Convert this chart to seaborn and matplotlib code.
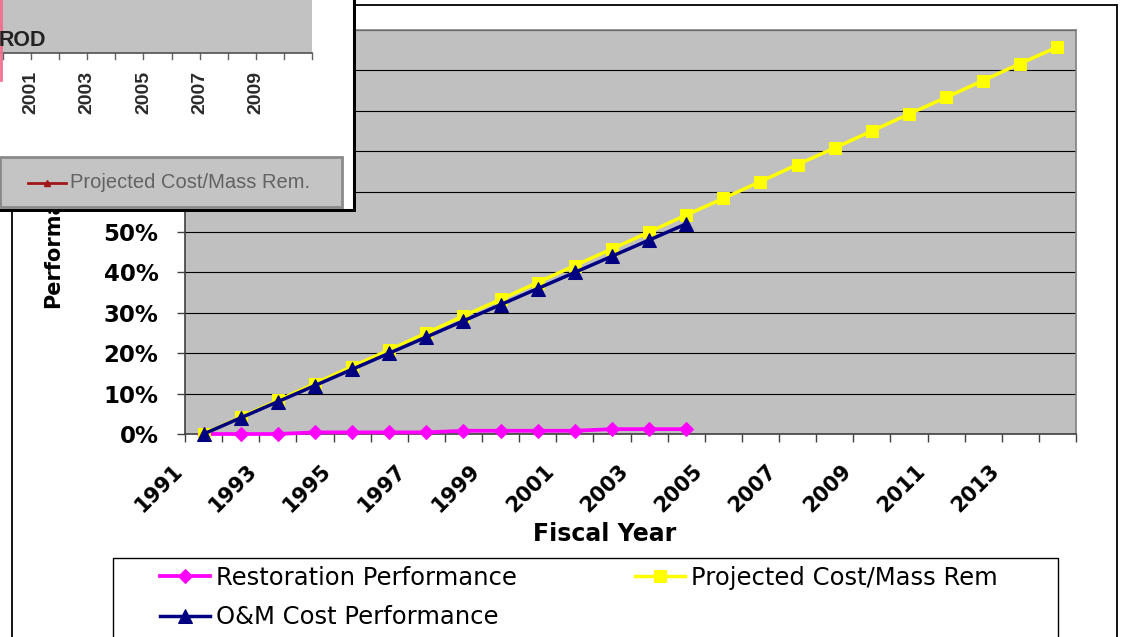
import numpy as np
import pandas as pd
import matplotlib
matplotlib.use("Agg")
import matplotlib.pyplot as plt
import seaborn as sns
from matplotlib.patches import Rectangle
from matplotlib.transforms import ScaledTranslation

# ---------------- data ----------------
years = ["1991", "1992", "1993", "1994", "1995", "1996", "1997", "1998",
         "1999", "2000", "2001", "2002", "2003", "2004", "2005", "2006",
         "2007", "2008", "2009", "2010", "2011", "2012", "2013", "2014"]
restoration = [0.0, 0.0, 0.0, 0.4, 0.4, 0.4, 0.4, 0.8, 0.8, 0.8, 0.8, 1.2, 1.2, 1.2]
om_cost = [0, 4, 8, 12, 16, 20, 24, 28, 32, 36, 40, 44, 48, 52]
projected = [0, 4.2, 8.3, 12.5, 16.7, 20.8, 25.0, 29.2, 33.3, 37.5, 41.7, 45.8,
             50.0, 54.2, 58.3, 62.5, 66.7, 70.8, 75.0, 79.2, 83.3, 87.5, 91.7, 95.8]
y_ticks = [0, 10, 20, 30, 40, 50, 60, 70, 80, 90, 100]
inset_labels = ["2001", "2003", "2005", "2007", "2009"]

W, H = 1121, 637
fig = plt.figure(figsize=(W / 100, H / 100), dpi=100)
fig.patch.set_facecolor("white")

def fx(px):
    return px / W

def fy(py):
    return 1 - py / H

# outer chart frame and legend frame (extend below the crop)
fig.patches.append(Rectangle((fx(12), -0.2), fx(1117) - fx(12), fy(5) + 0.2,
                             transform=fig.transFigure, facecolor="none",
                             edgecolor="black", lw=1.3))
fig.patches.append(Rectangle((fx(113), -0.2), fx(1058) - fx(113), fy(558) + 0.2,
                             transform=fig.transFigure, facecolor="none",
                             edgecolor="black", lw=1.0))

ax = fig.add_axes([fx(185), fy(434), fx(1076) - fx(185), (434 - 30) / H])
ax.set_facecolor("#C0C0C0")

x_r = np.arange(len(restoration))
x_o = np.arange(len(om_cost))
x_p = np.arange(len(projected))

sns.lineplot(x=x_r, y=restoration, ax=ax, color="#FF00FF", marker="D",
             markersize=7.5, markeredgecolor="#FF00FF", linewidth=2.7,
             label="Restoration Performance", clip_on=False, zorder=3)
sns.lineplot(x=x_p, y=projected, ax=ax, color="#FFFF00", marker="s",
             markersize=8.3, markeredgecolor="#FFFF00", linewidth=2.5,
             label="Projected Cost/Mass Rem", clip_on=False, zorder=4)
sns.lineplot(x=x_o, y=om_cost, ax=ax, color="#000080", marker="^",
             markersize=9.5, markeredgecolor="#000080", linewidth=2.5,
             label="O&M Cost Performance", clip_on=False, zorder=5)

handles, labels = ax.get_legend_handles_labels()
if ax.get_legend() is not None:
    ax.get_legend().remove()

ax.set_xlim(-0.5, len(years) - 0.5)
ax.set_ylim(0, 100)

# y axis (labels above 50% are hidden under the pasted screenshot)
ax.set_yticks(y_ticks)
ax.set_yticklabels([f"{v}%" for v in y_ticks], fontsize=16.5, fontweight="bold")
for v, lab in zip(y_ticks, ax.get_yticklabels()):
    if v > 50:
        lab.set_visible(False)
ax.yaxis.grid(True, color="black", lw=0.8)
ax.set_axisbelow(True)
ax.tick_params(axis="y", direction="out", length=6, width=1, color="#404040", pad=13)

# x axis: tick marks at category boundaries, labels every other year
ax.set_xticks(np.arange(len(years) + 1) - 0.5)
ax.set_xticklabels([])
ax.tick_params(axis="x", which="major", direction="out", length=6, width=1, color="#404040")
lab_pos = np.arange(0, len(years), 2)
ax.set_xticks(lab_pos, minor=True)
ax.set_xticklabels([years[i] for i in lab_pos], minor=True, fontsize=15,
                   fontweight="bold", rotation=45, ha="right", va="center",
                   rotation_mode="anchor")
ax.tick_params(axis="x", which="minor", length=0, pad=24)
offset = ScaledTranslation(-0.24, 0, fig.dpi_scale_trans)
for lab in ax.get_xticklabels(minor=True):
    lab.set_transform(lab.get_transform() + offset)

for s in ["top", "right"]:
    ax.spines[s].set_color("#808080")
    ax.spines[s].set_linewidth(1.2)
for s in ["left", "bottom"]:
    ax.spines[s].set_color("#404040")
    ax.spines[s].set_linewidth(1.2)

ax.set_ylabel("Performance", fontsize=15, fontweight="bold")
ax.yaxis.set_label_coords((63 - 185) / 891, 0.5)
ax.set_xlabel("Fiscal Year", fontsize=17, fontweight="bold")
ax.xaxis.set_label_coords((605 - 185) / 891, (434 - 522) / 404)

# legend
order = [0, 2, 1]
fig.legend([handles[i] for i in order], [labels[i] for i in order],
           loc="upper left", bbox_to_anchor=(fx(160), fy(566)), ncol=2,
           frameon=False, fontsize=17.5, handlelength=2.06, handletextpad=0.25,
           columnspacing=4.85, labelspacing=0.62, borderpad=0, borderaxespad=0)

# ---------------- pasted screenshot inset (top-left) ----------------
ins = fig.add_axes([0, fy(212), fx(356), 212 / H], zorder=20)
ins.set_xlim(0, 356)
ins.set_ylim(212, 0)
ins.axis("off")
ins.add_patch(Rectangle((0, 0), 354, 210, facecolor="white", edgecolor="none"))
ins.plot([0, 354, 354], [210, 210, 0], color="black", lw=2.2, solid_joinstyle="miter")
ins.add_patch(Rectangle((0, 0), 312, 53, facecolor="#C2C2C2", edgecolor="none"))
ins.plot([0, 312], [53, 53], color="#505050", lw=1.2)
tick_x = np.linspace(3, 312, 12)
for tx in tick_x:
    ins.plot([tx, tx], [53, 59], color="#606060", lw=1)
ins.plot([1, 1], [0, 80], color="#F07090", lw=2)
ins.text(-1, 40, "ROD", fontsize=15.5, fontweight="bold", family="Liberation Sans",
         ha="left", va="center", color="#222222")
for i, lab in enumerate(inset_labels):
    ins.text(tick_x[2 * i + 1], 71, lab, rotation=90, ha="center", va="top",
             fontsize=14, fontweight="bold", family="Liberation Sans", color="#2A2A2A")
ins.add_patch(Rectangle((0, 157), 342, 50, facecolor="#C4C4C4", edgecolor="#8A8A8A", lw=2))
ins.plot([28, 66], [183, 183], color="#A01818", lw=2)
ins.plot([47], [183], marker="^", color="#A01818", markersize=5)
ins.text(70, 183, "Projected Cost/Mass Rem.", color="#626262", va="center",
         ha="left", fontsize=14.5, family="Liberation Sans")

fig.savefig("out.png", dpi=100)
